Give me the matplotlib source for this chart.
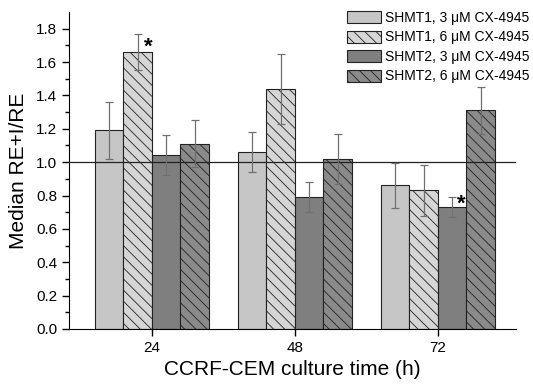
import numpy as np
import matplotlib.pyplot as plt

plt.rcParams['font.family'] = ['Liberation Sans', 'DejaVu Sans']
plt.rcParams['hatch.linewidth'] = 0.6

# data
hours = [24, 48, 72]
labels = ['SHMT1, 3 \u03bcM CX-4945', 'SHMT1, 6 \u03bcM CX-4945',
          'SHMT2, 3 \u03bcM CX-4945', 'SHMT2, 6 \u03bcM CX-4945']
shmt1_3 = [1.19, 1.06, 0.86]
shmt1_6 = [1.66, 1.44, 0.83]
shmt2_3 = [1.04, 0.79, 0.73]
shmt2_6 = [1.11, 1.02, 1.31]
err1_3 = [0.17, 0.12, 0.135]
err1_6 = [0.11, 0.21, 0.15]
err2_3 = [0.12, 0.09, 0.06]
err2_6 = [0.14, 0.15, 0.14]

series = [shmt1_3, shmt1_6, shmt2_3, shmt2_6]
errors = [err1_3, err1_6, err2_3, err2_6]
colors = ['#c6c6c6', '#d6d6d6', '#7f7f7f', '#8a8a8a']
hatches = [None, '\\\\\\', None, '\\\\\\']

fig = plt.figure(figsize=(5.33, 3.86), dpi=100)
ax = fig.add_axes([0.1295, 0.1477, 0.8385, 0.8213])

w = 4.8
x = np.array(hours, float)
for i in range(4):
    pos = x + (i - 1.5) * w
    ax.bar(pos, series[i], width=w, color=colors[i], edgecolor='#222222',
           linewidth=0.8, hatch=hatches[i], label=labels[i], zorder=2)
    ax.errorbar(pos, series[i], yerr=errors[i], fmt='none', ecolor='#707070',
                elinewidth=0.9, capsize=3, capthick=0.9, zorder=4)

ax.axhline(1.0, color='#222222', linewidth=0.9, zorder=3)

# significance marks
ax.text(x[0] - 0.5 * w + 1.8, 1.69, '*', fontsize=16, fontweight='bold',
        ha='center', va='center')
ax.text(x[2] + 0.5 * w + 1.5, 0.75, '*', fontsize=16, fontweight='bold',
        ha='center', va='center')

ax.set_xlim(10.1, 85.1)
ax.set_ylim(0, 1.9)
ax.set_xticks(hours)
ax.set_yticks(np.arange(0, 1.81, 0.2))
ax.set_yticks(np.arange(0.1, 1.9, 0.2), minor=True)
ax.yaxis.set_major_formatter(plt.FormatStrFormatter('%.1f'))
ax.tick_params(axis='both', labelsize=11, length=5, width=1)
ax.tick_params(axis='y', which='minor', length=3, width=1)
ax.spines['top'].set_visible(False)
ax.spines['right'].set_visible(False)

ax.set_xlabel('CCRF-CEM culture time (h)', fontsize=15, labelpad=4)
ax.set_ylabel('Median RE+I/RE', fontsize=15, labelpad=6)

ax.legend(loc='upper right', bbox_to_anchor=(1.05, 1.03), frameon=False,
          fontsize=10, handlelength=2.5, handleheight=0.95, labelspacing=0.4,
          handletextpad=0.3, borderaxespad=0.2)

fig.savefig('out.png', dpi=100)
